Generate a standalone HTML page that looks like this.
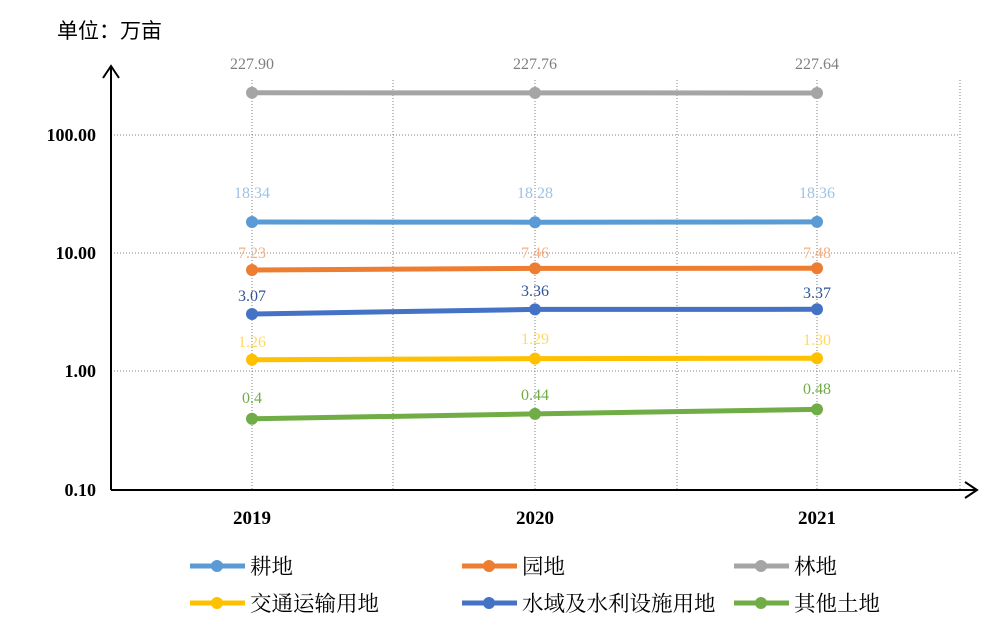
<!DOCTYPE html>
<html><head><meta charset="utf-8"><style>
body{margin:0;background:#fff;}
svg text{font-family:"Liberation Serif","Noto Serif CJK SC",serif;}
.cj{font-family:"Liberation Serif","Noto Sans CJK SC",sans-serif;}
</style></head><body>
<svg width="1005" height="635" viewBox="0 0 1005 635" xmlns="http://www.w3.org/2000/svg">
<rect width="1005" height="635" fill="#fff"/>
<text x="57" y="38" font-size="21" class="cj" fill="#000">单位：万亩</text>
<g stroke="#808080" stroke-width="1" stroke-dasharray="1,2">
<line x1="111" y1="135" x2="960" y2="135"/>
<line x1="111" y1="253" x2="960" y2="253"/>
<line x1="111" y1="371" x2="960" y2="371"/>
<line x1="252" y1="80" x2="252" y2="490"/>
<line x1="393" y1="80" x2="393" y2="490"/>
<line x1="535" y1="80" x2="535" y2="490"/>
<line x1="677" y1="80" x2="677" y2="490"/>
<line x1="817" y1="80" x2="817" y2="490"/>
<line x1="960" y1="80" x2="960" y2="490"/>
</g>
<g stroke="#000" stroke-width="2" fill="none">
<line x1="111" y1="490" x2="111" y2="66"/>
<polyline points="103,78 111,66 119,78"/>
<line x1="111" y1="490" x2="977" y2="490"/>
<polyline points="965,482 977,490 965,498"/>
</g>
<g font-size="18" fill="#000" text-anchor="end" font-weight="bold">
<text x="96" y="141">100.00</text>
<text x="96" y="259">10.00</text>
<text x="96" y="377">1.00</text>
<text x="96" y="496">0.10</text>
</g>
<g font-size="19" fill="#000" text-anchor="middle" font-weight="bold">
<text x="252" y="524">2019</text>
<text x="535" y="524">2020</text>
<text x="817" y="524">2021</text>
</g>
<g stroke-width="5" fill="none">
<polyline stroke="#A5A5A5" points="252,92.8 535,92.9 817,93"/>
<polyline stroke="#5B9BD5" points="252,222 535,222.2 817,221.9"/>
<polyline stroke="#ED7D31" points="252,270 535,268.4 817,268.2"/>
<polyline stroke="#4472C4" points="252,314 535,309.4 817,309.3"/>
<polyline stroke="#FFC000" points="252,359.8 535,358.6 817,358.2"/>
<polyline stroke="#70AD47" points="252,418.8 535,413.9 817,409.4"/>
</g>
<g>
<circle cx="252" cy="92.8" r="6" fill="#A5A5A5"/><circle cx="535" cy="92.9" r="6" fill="#A5A5A5"/><circle cx="817" cy="93" r="6" fill="#A5A5A5"/>
<circle cx="252" cy="222" r="6" fill="#5B9BD5"/><circle cx="535" cy="222.2" r="6" fill="#5B9BD5"/><circle cx="817" cy="221.9" r="6" fill="#5B9BD5"/>
<circle cx="252" cy="270" r="6" fill="#ED7D31"/><circle cx="535" cy="268.4" r="6" fill="#ED7D31"/><circle cx="817" cy="268.2" r="6" fill="#ED7D31"/>
<circle cx="252" cy="314" r="6" fill="#4472C4"/><circle cx="535" cy="309.4" r="6" fill="#4472C4"/><circle cx="817" cy="309.3" r="6" fill="#4472C4"/>
<circle cx="252" cy="359.8" r="6" fill="#FFC000"/><circle cx="535" cy="358.6" r="6" fill="#FFC000"/><circle cx="817" cy="358.2" r="6" fill="#FFC000"/>
<circle cx="252" cy="418.8" r="6" fill="#70AD47"/><circle cx="535" cy="413.9" r="6" fill="#70AD47"/><circle cx="817" cy="409.4" r="6" fill="#70AD47"/>
</g>
<g font-size="16" text-anchor="middle">
<g fill="#7F7F7F"><text x="252" y="69">227.90</text><text x="535" y="69">227.76</text><text x="817" y="69">227.64</text></g>
<g fill="#9DC3E6"><text x="252" y="198">18.34</text><text x="535" y="198">18.28</text><text x="817" y="198">18.36</text></g>
<g fill="#F4B183"><text x="252" y="258">7.23</text><text x="535" y="258">7.46</text><text x="817" y="258">7.48</text></g>
<g fill="#2F5597"><text x="252" y="301">3.07</text><text x="535" y="296">3.36</text><text x="817" y="298">3.37</text></g>
<g fill="#FFD966"><text x="252" y="347">1.26</text><text x="535" y="344">1.29</text><text x="817" y="345">1.30</text></g>
<g fill="#70AD47"><text x="252" y="403">0.4</text><text x="535" y="400">0.44</text><text x="817" y="394">0.48</text></g>
</g>
<g stroke-width="5">
<line x1="190" y1="566" x2="245" y2="566" stroke="#5B9BD5"/><circle cx="217" cy="566" r="6" fill="#5B9BD5"/>
<line x1="462" y1="566" x2="517" y2="566" stroke="#ED7D31"/><circle cx="489" cy="566" r="6" fill="#ED7D31"/>
<line x1="734" y1="566" x2="789" y2="566" stroke="#A5A5A5"/><circle cx="761" cy="566" r="6" fill="#A5A5A5"/>
<line x1="190" y1="603" x2="245" y2="603" stroke="#FFC000"/><circle cx="217" cy="603" r="6" fill="#FFC000"/>
<line x1="462" y1="603" x2="517" y2="603" stroke="#4472C4"/><circle cx="489" cy="603" r="6" fill="#4472C4"/>
<line x1="734" y1="603" x2="789" y2="603" stroke="#70AD47"/><circle cx="761" cy="603" r="6" fill="#70AD47"/>
</g>
<g font-size="21.5" class="cj" fill="#000">
<text x="250" y="574">耕地</text>
<text x="522" y="574">园地</text>
<text x="794" y="574">林地</text>
<text x="250" y="611">交通运输用地</text>
<text x="522" y="611">水域及水利设施用地</text>
<text x="794" y="611">其他土地</text>
</g>
</svg>
</body></html>
